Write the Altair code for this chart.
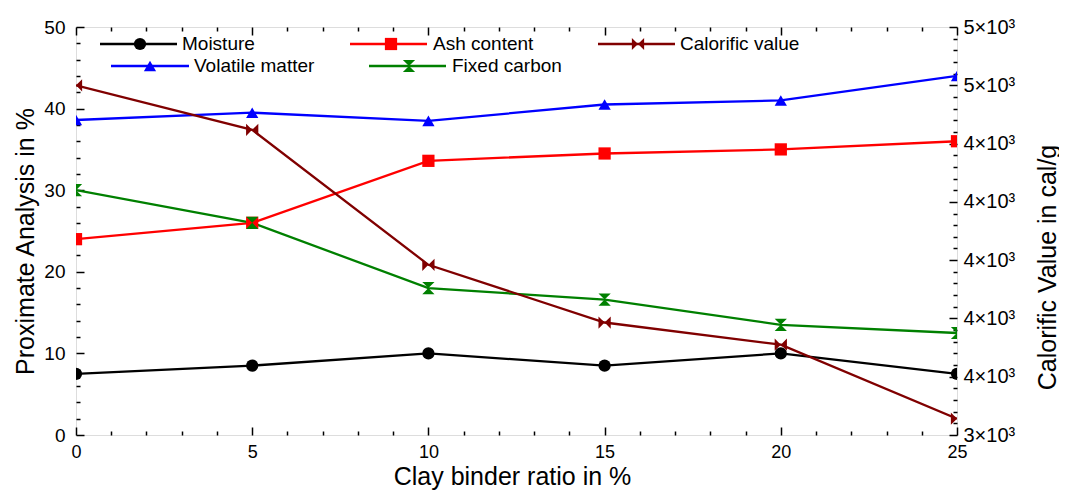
import altair as alt
import pandas as pd

# ---------------- data ----------------
x_ratio = [0, 5, 10, 15, 20, 25]
moisture = [7.5, 8.5, 10.0, 8.5, 10.0, 7.5]
ash_content = [24.0, 26.0, 33.6, 34.5, 35.0, 36.0]
volatile_matter = [38.6, 39.5, 38.5, 40.5, 41.0, 44.0]
fixed_carbon = [30.0, 26.0, 18.0, 16.6, 13.5, 12.5]
calorific_value = [4600, 4447, 3984, 3786, 3710, 3456]

series_names = ["Moisture", "Ash content", "Calorific value", "Volatile matter", "Fixed carbon"]
series_colors = ["#000000", "#FF0000", "#800000", "#0000FF", "#008000"]
BOWTIE = "M-1,-1L0,0L-1,1Z M1,-1L0,0L1,1Z"
HOURGLASS = "M-1,-1L1,-1L0,0Z M-1,1L1,1L0,0Z"
series_shapes = ["circle", "square", BOWTIE, "triangle-up", HOURGLASS]

x_major = [0, 5, 10, 15, 20, 25]
x_all = list(range(0, 26))
yl_major = [0, 10, 20, 30, 40, 50]
yl_all = list(range(0, 51, 2))
yr_major = list(range(3400, 4801, 200))
yr_all = list(range(3400, 4801, 40))

# legend layout (pixels inside the plot area)
leg_names = ["Moisture", "Ash content", "Calorific value", "Volatile matter", "Fixed carbon"]
leg_x0 = [24, 274, 522, 35, 293]
leg_x1 = [101, 351, 599, 113, 370]
leg_xm = [64, 315, 562, 74, 333]
leg_xt = [106, 357, 604, 118, 376]
leg_y = [17, 17, 17, 39, 39]

W, H = 881, 408
FONT = "Liberation Sans"

left_df = pd.DataFrame({
    "x": x_ratio * 4,
    "value": moisture + ash_content + volatile_matter + fixed_carbon,
    "series": ["Moisture"] * 6 + ["Ash content"] * 6 + ["Volatile matter"] * 6 + ["Fixed carbon"] * 6,
})
right_df = pd.DataFrame({"x": x_ratio, "value": calorific_value, "series": ["Calorific value"] * 6})
leg_df = pd.DataFrame({"series": leg_names, "x0": leg_x0, "x1": leg_x1, "xm": leg_xm,
                       "xt": leg_xt, "y": leg_y})

color = alt.Color("series:N", scale=alt.Scale(domain=series_names, range=series_colors), legend=None)
shape = alt.Shape("series:N", scale=alt.Scale(domain=series_names, range=series_shapes), legend=None)

xscale = alt.Scale(domain=[0, 25], nice=False, zero=False)
ylscale = alt.Scale(domain=[0, 50], nice=False)
yrscale = alt.Scale(domain=[3400, 4800], nice=False, zero=False)

common = dict(domain=False, grid=False, labelFont=FONT, titleFont=FONT, labelColor="black",
              titleColor="black", titleFontWeight="normal")

x_main = alt.X("x:Q", scale=xscale, axis=alt.Axis(
    orient="bottom", values=x_major, ticks=False, labelFontSize=18, labelPadding=8,
    labelFlush=False, title="Clay binder ratio in %", titleFontSize=25, titleX=436,
    titleY=49, titleBaseline="alphabetic", titleAlign="center", **common))
yl_main = alt.Y("value:Q", scale=ylscale, axis=alt.Axis(
    orient="left", values=yl_major, ticks=False, labelFontSize=19, labelPadding=11,
    title="Proximate Analysis in %", titleFontSize=25, titleAngle=270, titleX=-43,
    titleY=214, titleBaseline="alphabetic", titleAlign="center", **common))
x_none = alt.X("x:Q", scale=xscale, axis=None)
yr_main = alt.Y("value:Q", scale=yrscale, axis=alt.Axis(
    orient="right", values=yr_major, ticks=False, labelFontSize=20, labelPadding=6,
    labelExpr="round(datum.value / 1000) + '×10³'",
    title="Calorific Value in cal/g", titleFontSize=25, titleAngle=270, titleX=98,
    titleY=240, titleBaseline="alphabetic", titleAlign="center", **common))

tick_common = dict(labels=False, domain=False, grid=False, title="", tickColor="black", tickWidth=1.5)

left_lines = alt.Chart(left_df).mark_line(strokeWidth=2.3, clip=True).encode(
    x=x_main, y=yl_main, color=color, detail="series:N")
left_pts = alt.Chart(left_df).mark_point(filled=True, size=150, opacity=1, clip=True).encode(
    x=x_main, y=yl_main, color=color, shape=shape)
left = alt.layer(left_lines, left_pts)

right_lines = alt.Chart(right_df).mark_line(strokeWidth=2.3, clip=True).encode(
    x=x_none, y=yr_main, color=color)
right_pts = alt.Chart(right_df).mark_point(filled=True, size=150, opacity=1, clip=True).encode(
    x=x_none, y=yr_main, color=color, shape=shape)
right = alt.layer(right_lines, right_pts)

# inward ticks: bottom edge + left edge
ticks_a = alt.Chart(left_df).mark_point(opacity=0).encode(
    x=alt.X("x:Q", scale=xscale, axis=alt.Axis(
        orient="top", offset=-H, values=x_all,
        tickSize={"condition": {"test": "datum.value % 5 === 0", "value": 8}, "value": 4},
        **tick_common)),
    y=alt.Y("value:Q", scale=ylscale, axis=alt.Axis(
        orient="right", offset=-W, values=yl_all,
        tickSize={"condition": {"test": "datum.value % 10 === 0", "value": 8}, "value": 4},
        **tick_common)))
# inward ticks: top edge + right edge
ticks_b = alt.Chart(right_df).mark_point(opacity=0).encode(
    x=alt.X("x:Q", scale=xscale, axis=alt.Axis(
        orient="bottom", offset=-H, values=x_all,
        tickSize={"condition": {"test": "datum.value % 5 === 0", "value": 8}, "value": 4},
        **tick_common)),
    y=alt.Y("value:Q", scale=yrscale, axis=alt.Axis(
        orient="left", offset=-W, values=yr_all,
        tickSize={"condition": {"test": "(datum.value - 3400) % 200 === 0", "value": 8}, "value": 4},
        **tick_common)))

leg_rules = alt.Chart(leg_df).mark_rule(strokeWidth=2.3).encode(
    x=alt.X("x0:Q", scale=None), x2="x1:Q", y=alt.Y("y:Q", scale=None), color=color)
leg_pts = alt.Chart(leg_df).mark_point(filled=True, size=150, opacity=1).encode(
    x=alt.X("xm:Q", scale=None), y=alt.Y("y:Q", scale=None), color=color, shape=shape)
leg_text = alt.Chart(leg_df).mark_text(align="left", baseline="middle", font=FONT,
                                       fontSize=19, color="black").encode(
    x=alt.X("xt:Q", scale=None), y=alt.Y("y:Q", scale=None), text="series:N")
legend = alt.layer(leg_rules, leg_pts, leg_text)

chart = alt.layer(left, right, ticks_a, ticks_b, legend).resolve_scale(
    x="independent", y="independent"
).properties(
    width=W, height=H,
    autosize=alt.AutoSizeParams(type="none"),
    padding={"left": 68, "top": 19, "right": 102, "bottom": 58},
).configure_view(stroke="black", strokeWidth=2).configure(background="white")

chart.save("out.html", embed_options={"renderer": "svg", "actions": False})
